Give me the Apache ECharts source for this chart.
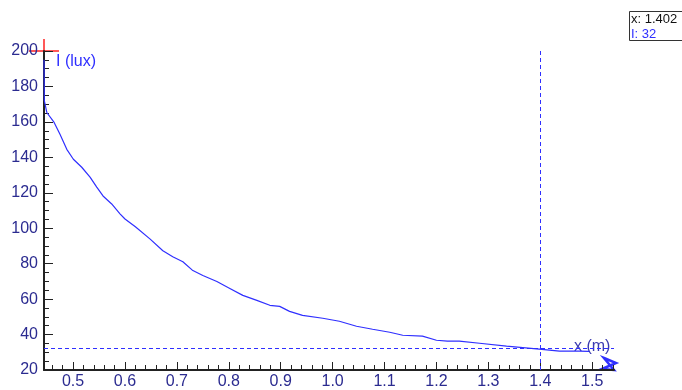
<!DOCTYPE html>
<html>
<head>
<meta charset="utf-8">
<script src="https://cdn.jsdelivr.net/npm/echarts@6/dist/echarts.min.js"></script>
<style>html,body{margin:0;padding:0;background:#fff}#c{width:682px;height:390px}</style>
</head>
<body>
<div id="c"></div>
<script>
const xVals = [0.444, 0.4446, 0.4456, 0.4494, 0.4635, 0.475, 0.4879, 0.5006, 0.5167, 0.5327, 0.5456, 0.5577, 0.5744, 0.5904, 0.600, 0.620, 0.648, 0.673, 0.692, 0.7115, 0.7308, 0.750, 0.777, 0.802, 0.827, 0.854, 0.879, 0.898, 0.917, 0.942, 0.981, 1.013, 1.046, 1.077, 1.110, 1.135, 1.173, 1.200, 1.221, 1.244, 1.283, 1.335, 1.398, 1.437, 1.475, 1.494];
const iVals = [195, 172, 171.6, 165.3, 159.7, 152.9, 144.5, 138.9, 134.4, 128.8, 123.2, 118.2, 113.7, 108.1, 105.2, 100.8, 94.0, 87.3, 83.9, 81.1, 76.1, 73.3, 69.9, 66.0, 62.1, 59.3, 56.5, 55.9, 53.1, 50.8, 49.2, 47.5, 44.7, 43.0, 41.3, 39.6, 39.1, 36.8, 36.3, 36.3, 35.1, 33.5, 31.8, 30.7, 30.7, 30.5];
const xMajorTicks = [0.5, 0.6, 0.7, 0.8, 0.9, 1.0, 1.1, 1.2, 1.3, 1.4, 1.5];
const xMinorTicks = [0.46, 0.48, 0.52, 0.54, 0.56, 0.58, 0.62, 0.64, 0.66, 0.68, 0.72, 0.74, 0.76, 0.78, 0.82, 0.84, 0.86, 0.88, 0.92, 0.94, 0.96, 0.98, 1.02, 1.04, 1.06, 1.08, 1.12, 1.14, 1.16, 1.18, 1.22, 1.24, 1.26, 1.28, 1.32, 1.34, 1.36, 1.38, 1.42, 1.44, 1.46, 1.48, 1.52, 1.54];
const cursorX = 1.402;
const cursorI = 32;

const labelColor = '#2b2b90';
const blue = '#2f2fff';
const chart = echarts.init(document.getElementById('c'), null, {renderer: 'canvas'});
const xMin = 0.444, xMax = 1.542;
chart.setOption({
  animation: false,
  grid: {left: 44, top: 51, right: 68, bottom: 18},
  xAxis: [{
    type: 'value', min: xMin, max: xMax,
    axisLine: {show: true, onZero: false, lineStyle: {color: '#222', width: 2}},
    axisTick: {show: true, inside: true, length: 8, customValues: xMajorTicks, lineStyle: {color: '#222', width: 1}},
    axisLabel: {customValues: xMajorTicks, color: labelColor, fontSize: 16, fontFamily: 'Liberation Sans, Arial', margin: 4,
      formatter: v => v.toFixed(1)},
    splitLine: {show: false}
  }, {
    type: 'value', min: xMin, max: xMax, position: 'bottom',
    axisLine: {show: false},
    axisTick: {show: true, inside: true, length: 5, customValues: xMinorTicks, lineStyle: {color: '#222', width: 1}},
    axisLabel: {show: false},
    splitLine: {show: false}
  }],
  yAxis: {
    type: 'value', min: 20, max: 200, interval: 20,
    axisLine: {show: true, onZero: false, lineStyle: {color: '#222', width: 2}},
    axisTick: {show: true, inside: true, length: 9, lineStyle: {color: '#222', width: 1}},
    minorTick: {show: true, splitNumber: 4, length: 5, lineStyle: {color: '#222', width: 1}},
    axisLabel: {color: labelColor, fontSize: 16, fontFamily: 'Liberation Sans, Arial', margin: 6},
    splitLine: {show: false}
  },
  series: [{
    type: 'line',
    data: xVals.map((x, i) => [x, iVals[i]]),
    showSymbol: false,
    lineStyle: {color: blue, width: 1.2},
    markLine: {
      silent: true, symbol: 'none', label: {show: false},
      lineStyle: {color: blue, type: [4, 3], width: 1},
      data: [{xAxis: cursorX}, {yAxis: cursorI}]
    }
  }]
});

const o = chart.convertToPixel({xAxisIndex: 0, yAxisIndex: 0}, [xMin, 200]);
const e = chart.convertToPixel({xAxisIndex: 0, yAxisIndex: 0}, [xMax, 20]);
const hy = chart.convertToPixel({xAxisIndex: 0, yAxisIndex: 0}, [xMax, cursorI]);
chart.setOption({
  graphic: [
    {type: 'line', shape: {x1: o[0] - 15, y1: o[1], x2: o[0] + 15, y2: o[1]}, style: {stroke: '#ff2020', lineWidth: 1.5}},
    {type: 'line', shape: {x1: o[0], y1: o[1] - 12, x2: o[0], y2: o[1] + 15}, style: {stroke: '#ff2020', lineWidth: 1.5}},
    {type: 'text', left: o[0] + 12, top: o[1] + 3, style: {text: 'I (lux)', fill: blue, font: '16px "Liberation Sans", Arial'}},
    {type: 'text', left: e[0] - 40, top: hy[1] - 10, style: {text: 'x (m)', fill: '#3a3ab0', font: '16px "Liberation Sans", Arial'}},
    {type: 'polygon', shape: {points: [[e[0] - 10, e[1] - 12], [e[0] + 2, e[1] - 7], [e[0] - 12, e[1] - 1], [e[0], e[1]]]}, style: {fill: 'none', stroke: blue, lineWidth: 2.5}},
    {type: 'rect', shape: {x: 629.5, y: 11.5, width: 60, height: 29}, style: {fill: '#fff', stroke: '#333', lineWidth: 1}},
    {type: 'text', left: 631, top: 13, style: {text: 'x: 1.402', fill: '#111', font: '13px "Liberation Sans", Arial'}},
    {type: 'text', left: 631, top: 28, style: {text: 'I: 32', fill: blue, font: '13px "Liberation Sans", Arial'}}
  ]
});
</script>
</body>
</html>
